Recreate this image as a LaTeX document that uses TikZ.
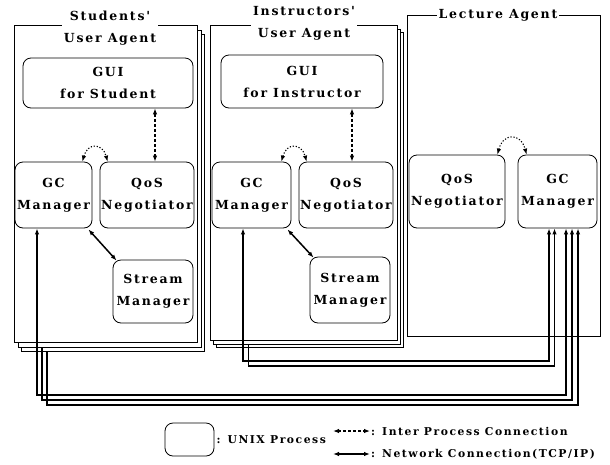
\documentclass[tikz,border=0pt]{standalone}
\usepackage{fontspec}
\usetikzlibrary{arrows.meta,positioning}

\newfontfamily\labelfamily[LetterSpace=14]{DejaVu Serif}
\newcommand{\boxfont}{\labelfamily\bfseries\fontsize{12.5}{22}\selectfont}
\newcommand{\keyfont}{\labelfamily\bfseries\fontsize{10.8}{12}\selectfont}

\begin{document}
\begin{tikzpicture}[x=1pt, y=-1pt,
    process/.style={draw, rounded corners=8pt, line width=0.8pt, fill=white, inner sep=0pt, align=center, font=\boxfont},
    agent/.style={draw, line width=0.8pt, fill=white, inner sep=0pt, anchor=north west},
    caption/.style={fill=white, inner sep=2pt, align=center, font=\boxfont},
    ipc/.style={line width=1.1pt, dash pattern=on 3pt off 2pt, {Latex[length=6pt,width=4.5pt]}-{Latex[length=6pt,width=4.5pt]}},
    dots/.style={ipc, dash pattern=on 1.2pt off 1.8pt},
    netboth/.style={line width=1.5pt, {Latex[length=6pt,width=4.5pt]}-{Latex[length=6pt,width=4.5pt]}},
    netend/.style={line width=1.5pt, -{Latex[length=6pt,width=4.5pt]}},
    keytext/.style={inner sep=1pt, anchor=west, font=\keyfont}
]
\useasboundingbox (0,0) rectangle (610,464);

% agent frames, stacked copies first
\node[agent, minimum width=183, minimum height=317] (stu2) at (21,34) {};
\node[agent, minimum width=183, minimum height=317] (stu1) at (17.5,29.5) {};
\node[agent, minimum width=183, minimum height=317] (stu) at (14,25) {};
\node[agent, minimum width=187, minimum height=315] (ins2) at (216,32) {};
\node[agent, minimum width=187, minimum height=315] (ins1) at (213,28.5) {};
\node[agent, minimum width=187, minimum height=315] (ins) at (210,25) {};
\node[agent, minimum width=193, minimum height=321] (lec) at (407,15) {};

\node[caption] (stutitle) at (110,28.5) {Students'\\User Agent};
\node[caption] (institle) at (304,23.5) {Instructors'\\User Agent};
\node[caption] (lectitle) at (498,15) {Lecture Agent};

% students' user agent
\node[process, minimum width=170, minimum height=50] (sgui) at (108,83) {GUI\\for Student};
\node[process, minimum width=77, minimum height=66] (sgc) at (53.5,195) {GC\\Manager};
\node[process, minimum width=94, minimum height=66] (sqos) at (147,195) {QoS\\Negotiator};
\node[process, minimum width=80, minimum height=63] (sstr) at (153,291.5) {Stream\\Manager};

% instructors' user agent
\node[process, minimum width=162, minimum height=53] (igui) at (302,81.5) {GUI\\for Instructor};
\node[process, minimum width=79, minimum height=66] (igc) at (251.5,195) {GC\\Manager};
\node[process, minimum width=94, minimum height=66] (iqos) at (346,195) {QoS\\Negotiator};
\node[process, minimum width=80, minimum height=66] (istr) at (350,290) {Stream\\Manager};

% lecture agent
\node[process, minimum width=96, minimum height=73] (lqos) at (457,191.5) {QoS\\Negotiator};
\node[process, minimum width=79, minimum height=73] (lgc) at (557.5,191.5) {GC\\Manager};

% inter process connections
\coordinate (sq) at ([xshift=8]sqos.north);
\coordinate (iq) at ([xshift=6]iqos.north);
\draw[ipc] (sgui.south -| sq) -- (sq);
\draw[ipc] (igui.south -| iq) -- (iq);
\draw[dots] ([xshift=-10]sgc.north east) to[out=75, in=105, looseness=2] ([xshift=8]sqos.north west);
\draw[dots] ([xshift=-10]igc.north east) to[out=75, in=105, looseness=2] ([xshift=8]iqos.north west);
\draw[dots] ([xshift=-8]lqos.north east) to[out=75, in=105, looseness=2] ([xshift=9]lgc.north west);

% network connections
\draw[netboth] ([shift={(-4,1)}]sgc.south east) -- ([shift={(4,1)}]sstr.north west);
\draw[netboth] ([shift={(-4,1)}]igc.south east) -- ([shift={(4,1)}]istr.north west);
\foreach \k/\from/\tips in {0/sgc/netboth, 1/stu1/netend, 2/stu2/netend}
  \draw[\tips] ({37+5*\k},0 |- \from.south) -- ({37+5*\k},{395+5*\k}) -| ({566+6*\k},0 |- lgc.south);
\foreach \k/\from/\tips in {0/igc/netboth, 1/ins1/netend}
  \draw[\tips] ({243+5.5*\k},0 |- \from.south) -- ({243+5.5*\k},{361+5*\k}) -| ({549+5.5*\k},0 |- lgc.south);

% key
\node[process, minimum width=49, minimum height=33] (keybox) at (189.5,439.5) {};
\node[keytext, right=1pt of keybox] (keyproc) {: UNIX Process};
\coordinate (ipcl) at (333,431);
\coordinate (ipcr) at (370,431);
\draw[ipc] (ipcl) -- (ipcr);
\node[keytext, right=0pt of ipcr] (keyipc) {: Inter Process Connection};
\coordinate (netl) at (333,454);
\coordinate (netr) at (370,454);
\draw[netboth] (netl) -- (netr);
\node[keytext, right=0pt of netr] (keynet) {: Network Connection(TCP/IP)};
\end{tikzpicture}
\end{document}
